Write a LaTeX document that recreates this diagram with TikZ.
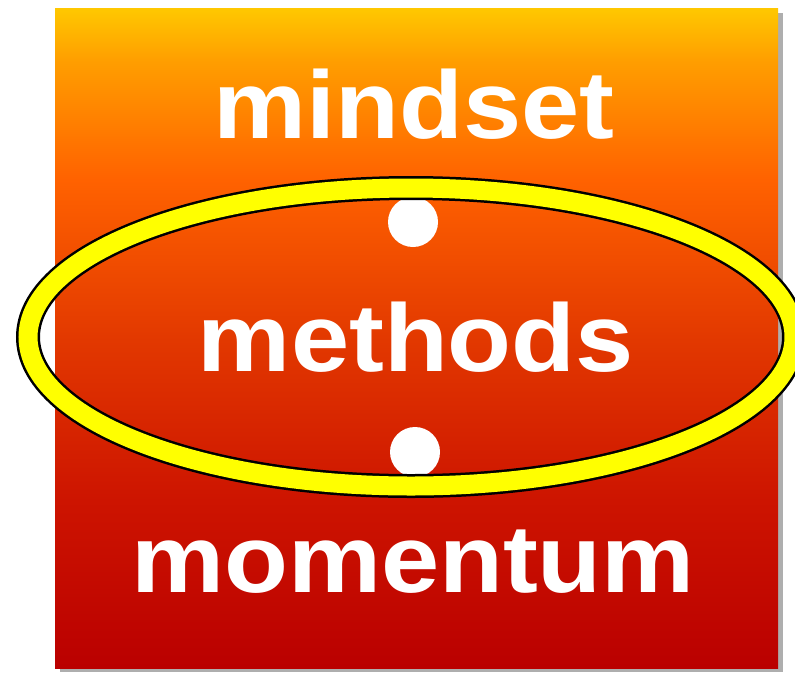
\documentclass[tikz,border=0pt]{standalone}
\usepackage{fontspec}
\setmainfont{Liberation Sans}
\usepackage{xcolor}
\usepackage{tikz}
\usetikzlibrary{positioning, calc}
\definecolor{boxshadow}{RGB}{120, 120, 120}
\definecolor{ringyellow}{RGB}{255, 255, 0}
\definecolor{gold}{RGB}{255, 200, 0}
\definecolor{amber}{RGB}{255, 158, 0}
\definecolor{brightorange}{RGB}{255, 98, 0}
\definecolor{midred}{RGB}{226, 56, 0}
\definecolor{lowred}{RGB}{205, 20, 0}
\definecolor{deepred}{RGB}{186, 0, 0}
\pgfdeclareverticalshading{boxshade}{100bp}{
    color(0bp)=(deepred); color(25bp)=(deepred);
    color(37.7bp)=(lowred); color(49.8bp)=(midred);
    color(62bp)=(brightorange); color(71bp)=(amber);
    color(75bp)=(gold); color(100bp)=(gold)}
\tikzstyle{word} = [
    text=white,
    font=\fontsize{96}{100}\selectfont\bfseries,
    anchor=base,
    xscale=1.09,
    inner sep=0pt
]
\tikzstyle{bullet} = [
    circle,
    fill=white,
    minimum size=50pt,
    inner sep=0pt
]
\tikzstyle{ring} = [
    draw=black,
    line width=2.5pt,
    double=ringyellow,
    double distance=19pt
]

\begin{document}
\begin{tikzpicture}[x=1pt, y=-1pt]
        \clip (0, 0) rectangle (795, 673);
        \fill[white] (0, 0) rectangle (795, 673);
        % Box
        \fill[boxshadow!60] (60, 13) rectangle (783, 672);
        \shade[shading=boxshade] (55, 8) rectangle (778, 668);
        
        % Words
        \node[word] (mindset) at (414, 138) {mindset};
        \node[word] (methods) at (416, 371) {methods};
        \node[word] (momentum) at (413, 592) {momentum};
        
        % Dots
        \node[bullet] (upper) at (413, 222) {};
        \node[bullet] (lower) at (415, 452) {};
        
        % Ring
        \draw[ring] (411, 337) ellipse [x radius=383pt, y radius=149pt];
    \end{tikzpicture}
\end{document}
